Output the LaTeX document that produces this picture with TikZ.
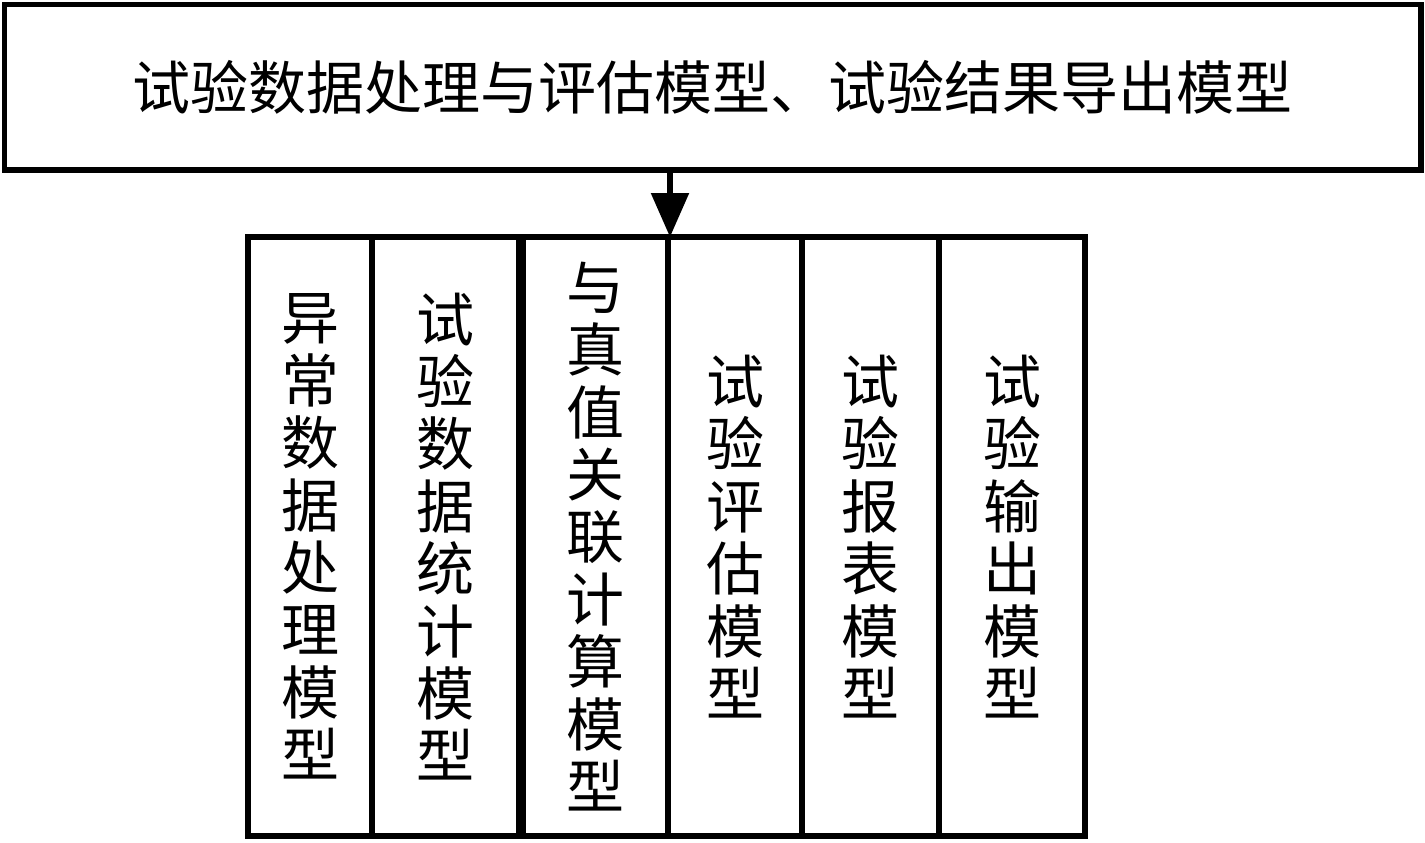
\documentclass[tikz,border=0pt]{standalone}
\usepackage{fontspec}
\newfontfamily\cjk{Noto Sans CJK SC}
\usetikzlibrary{arrows.meta}
\tikzset{
  box/.style={draw=black, line width=2.75pt, rectangle, inner sep=0pt, outer sep=0pt, anchor=north west, align=center},
  colbox/.style={box, font=\cjk\fontsize{29}{31.2}\selectfont},
  arr/.style={line width=2.75pt, -{Triangle[length=22pt,width=18.5pt]}}
}
\begin{document}
\begin{tikzpicture}[x=0.5pt,y=-0.5pt]
\useasboundingbox (0,0) rectangle (1425,842);
\node[box, minimum width=708.25pt, minimum height=82.75pt, font=\cjk\fontsize{29}{32}\selectfont] (top) at (4.5,4.5) {试验数据处理与评估模型、试验结果导出模型};
\node[colbox, minimum width=62pt, minimum height=299.5pt] (c1) at (248,237) {异\\常\\数\\据\\处\\理\\模\\型};
\node[colbox, minimum width=73.5pt, minimum height=299.5pt] (c2) at (372,237) {试\\验\\数\\据\\统\\计\\模\\型};
\node[colbox, minimum width=72.5pt, minimum height=299.5pt] (c3) at (523,237) {与\\真\\值\\关\\联\\计\\算\\模\\型};
\node[colbox, minimum width=67pt, minimum height=299.5pt] (c4) at (668,237) {试\\验\\评\\估\\模\\型};
\node[colbox, minimum width=68.5pt, minimum height=299.5pt] (c5) at (802,237) {试\\验\\报\\表\\模\\型};
\node[colbox, minimum width=73pt, minimum height=299.5pt] (c6) at (939,237) {试\\验\\输\\出\\模\\型};
\coordinate (tip) at ([xshift=1pt]c4.north west);
\draw[arr] (top.south -| tip) -- (tip);
\end{tikzpicture}
\end{document}
